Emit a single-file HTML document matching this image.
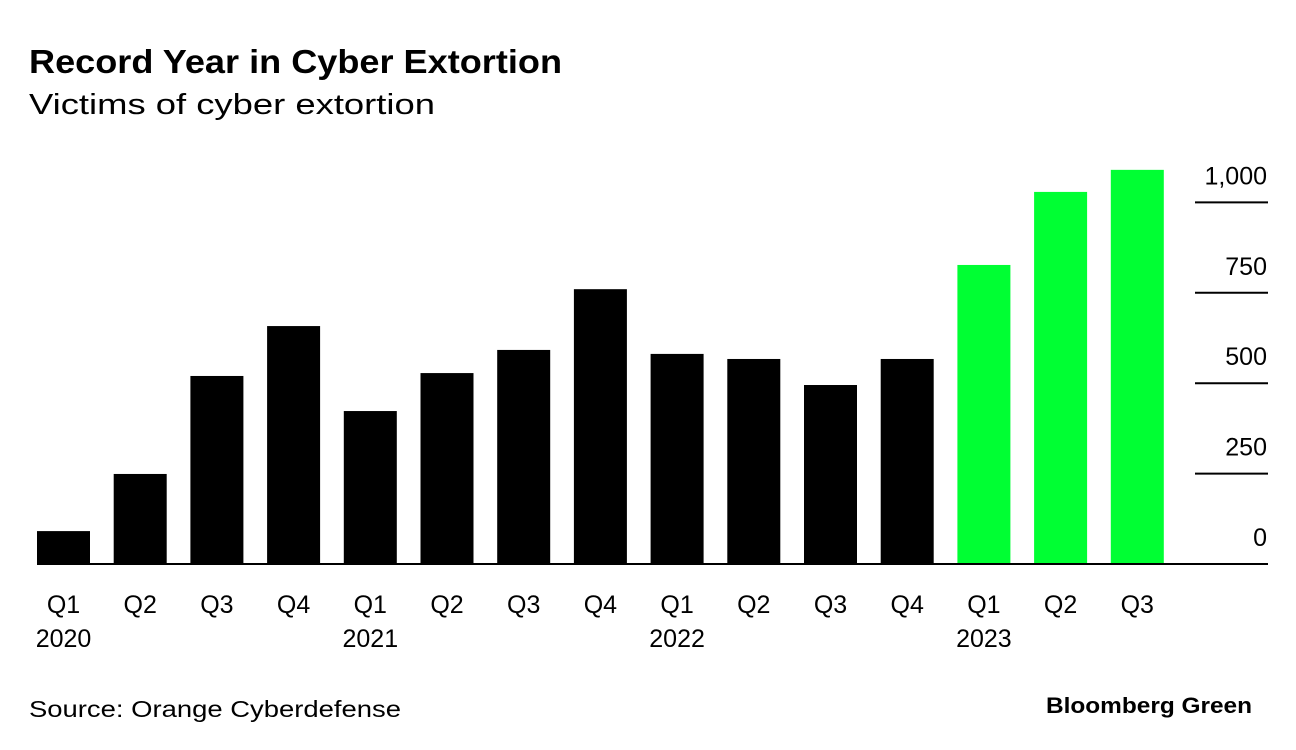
<!DOCTYPE html>
<html><head><meta charset="utf-8">
<style>
body{margin:0;background:#fff;font-family:"Liberation Sans",sans-serif;}
svg{display:block}
</style></head>
<body>
<svg width="1296" height="750">
<text x="29" y="73" font-size="33" font-weight="bold" fill="#000" textLength="533" lengthAdjust="spacingAndGlyphs">Record Year in Cyber Extortion</text>
<text x="29" y="114" font-size="29" fill="#000" textLength="406" lengthAdjust="spacingAndGlyphs">Victims of cyber extortion</text>
<g id="plot"></g>
<text x="29" y="717" font-size="23" fill="#000" textLength="372" lengthAdjust="spacingAndGlyphs">Source: Orange Cyberdefense</text>
<text x="1252" y="713" font-size="22" font-weight="bold" fill="#000" text-anchor="end" textLength="206" lengthAdjust="spacingAndGlyphs">Bloomberg Green</text>
</svg>
<script>
const quarters=["Q1","Q2","Q3","Q4","Q1","Q2","Q3","Q4","Q1","Q2","Q3","Q4","Q1","Q2","Q3"];
const years=["2020","","","","2021","","","","2022","","","","2023","",""];
const values=[91,249,520,658,423,528,592,760,581,567,495,567,827,1029,1090];
const highlight=[0,0,0,0,0,0,0,0,0,0,0,0,1,1,1];
const ticks=[0,250,500,750,1000];
const tickLabels=["0","250","500","750","1,000"];
const NS="http://www.w3.org/2000/svg";
const g=document.getElementById("plot");
const y0=564,pxPer=0.3616;
const y=v=>y0-v*pxPer;
const x=i=>37+i*76.7;
const bw=53;
function mk(t,a){const e=document.createElementNS(NS,t);for(const k in a)e.setAttribute(k,a[k]);g.appendChild(e);return e;}
ticks.forEach((t,i)=>{
  if(t>0){const l=mk("line",{x1:1195,x2:1268,y1:y(t),y2:y(t),stroke:"#000","stroke-width":2});
  
  }
  const tx=mk("text",{x:1267,y:y(t)-18,"font-size":25,"text-anchor":"end",fill:"#000"});
  tx.textContent=tickLabels[i];
  
  
});
values.forEach((v,i)=>{
  const r=mk("rect",{x:x(i),y:y(v),width:bw,height:y0-y(v),fill:highlight[i]?"#00ff33":"#000"});
  
  
  const q=mk("text",{x:x(i)+bw/2,y:613,"font-size":25,"text-anchor":"middle",fill:"#000"});
  q.textContent=quarters[i];
  
  
  if(years[i]){const yr=mk("text",{x:x(i)+bw/2,y:647,"font-size":25,"text-anchor":"middle",fill:"#000"});
  yr.textContent=years[i];
  
  }
});
const base=mk("line",{x1:37,x2:1268,y1:y0,y2:y0,stroke:"#000","stroke-width":2});


</script>
</body></html>
